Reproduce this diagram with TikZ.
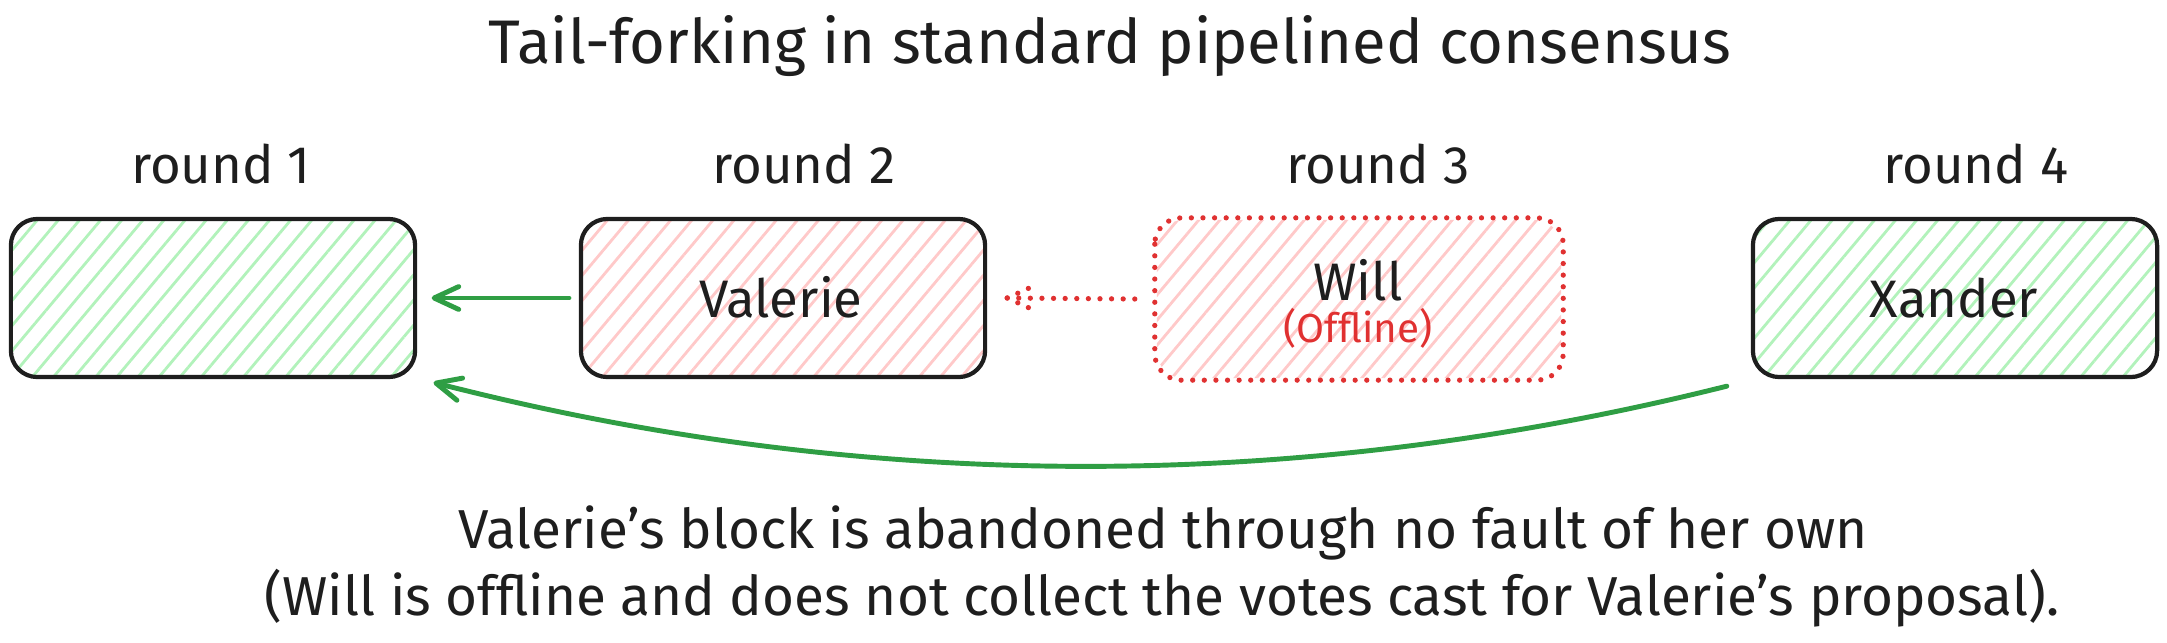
\documentclass[tikz,border=0pt]{standalone}
\usepackage{fontspec}
\setmainfont{Fira Sans}
\usetikzlibrary{arrows.meta,patterns.meta,calc}
\definecolor{ink}{HTML}{1E1E1E}
\definecolor{gstroke}{HTML}{2F9E44}
\definecolor{rstroke}{HTML}{E03131}
\definecolor{gfill}{HTML}{B2F2BB}
\definecolor{rfill}{HTML}{FFC9C9}
\begin{document}
\begin{tikzpicture}[x=0.01cm,y=-0.01cm,
  blockbox/.style={line width=1.2pt, rounded corners=7.5pt, minimum width=4.04cm, minimum height=1.58cm, inner sep=0pt},
  solidbox/.style={blockbox, draw=ink},
  greenhatch/.style={pattern={Lines[angle=50,distance=4.6pt,line width=0.8pt]}, pattern color=gfill},
  redhatch/.style={pattern={Lines[angle=50,distance=4.6pt,line width=0.8pt]}, pattern color=rfill},
  txt/.style={font=\fontsize{15}{18}\selectfont, text=ink, inner sep=0pt, anchor=base},
  bodytxt/.style={font=\fontsize{15.6}{19}\selectfont, text=ink, inner sep=0pt, anchor=base},
  titletxt/.style={font=\fontsize{17.5}{21}\selectfont, text=ink, inner sep=0pt, anchor=base},
  smalltxt/.style={font=\fontsize{11.5}{14}\selectfont, text=rstroke, inner sep=0pt, anchor=base},
  garrow/.style={draw=gstroke, line width=1.4pt, line cap=round,
     -{Straight Barb[length=7pt,width=6.5pt,line width=1.4pt,round]}},
  rdots/.style={draw=rstroke, line width=1.5pt, line cap=round, dash pattern=on 0pt off 3.3pt}
]
\useasboundingbox (0,0) rectangle (2167,642);

% title
\node[titletxt] (title) at (1110,63) {Tail-forking in standard pipelined consensus};

% round labels
\node[txt] (r1) at (221,183) {round 1};
\node[txt] (r2) at (804,183) {round 2};
\node[txt] (r3) at (1378,183) {round 3};
\node[txt] (r4) at (1976,183) {round 4};

% blocks
\node[solidbox, greenhatch] (b1) at (213,298) {};
\node[solidbox, redhatch] (b2) at (783,298) {};
\node[blockbox, redhatch] (b3) at (1359,299) {};
\draw[rdots, rounded corners=7.5pt] (b3.north west) rectangle (b3.south east);
\node[solidbox, greenhatch] (b4) at (1955,298) {};

% block texts
\node[txt] (tv) at (781,317) {Valerie};
\node[txt] (tw) at (1358,300) {Will};
\node[smalltxt] (to) at (1358,342) {(Offline)};
\node[txt] (tx) at (1954,317) {Xander};

% straight green arrow
\draw[garrow, shorten <=2.8pt, shorten >=4.3pt] (b2.west) -- (b1.east);

% dotted red arrow with dotted barbs
\coordinate (dtip) at ($(b2.east)+(20,0)$);
\coordinate (dtail) at ($(b3.west)+(-20,0)$);
\draw[rdots] (dtail) -- (dtip);
\draw[rdots] (dtip) -- ++(22,-10);
\draw[rdots] (dtip) -- ++(22,10);

% curved green arrow
\coordinate (cs) at ($(b4.south west)+(-24,7)$);
\coordinate (ce) at ($(b1.south east)+(17,4)$);
\draw[garrow] (cs) .. controls (1296,494) and (864,493) .. (ce);

% bottom text
\node[bodytxt] (l1) at (1163,548) {Valerie's block is abandoned through no fault of her own};
\node[bodytxt] (l2) at (1162,615) {(Will is offline and does not collect the votes cast for Valerie's proposal).};
\end{tikzpicture}
\end{document}
